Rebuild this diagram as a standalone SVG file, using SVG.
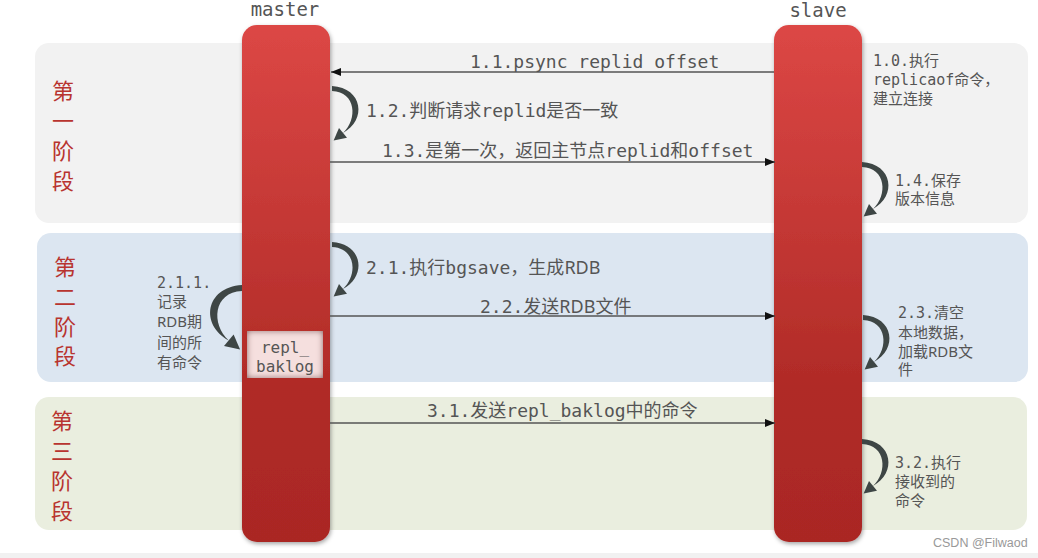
<svg xmlns="http://www.w3.org/2000/svg" xmlns:xlink="http://www.w3.org/1999/xlink" width="1038" height="558" viewBox="0 0 1038 558">
<style>
.mono{font-family:"DejaVu Sans Mono","Noto Sans CJK SC",monospace;fill:#555;}
.lbl{font-size:18px;}
.sm{font-size:15px;}
.sans{font-family:"Noto Sans","Noto Sans CJK SC",sans-serif;}
.stage{font-family:"Noto Sans CJK SC",sans-serif;font-size:22px;fill:#b8342f;text-anchor:middle;}
.conn{stroke:#555;stroke-width:1.3;fill:none;}
.curl{fill:#3e4645;}
</style>
<defs>
<linearGradient id="barGrad" x1="0" y1="0" x2="0" y2="1">
<stop offset="0" stop-color="#dc4745"/>
<stop offset="0.7" stop-color="#b02b27"/>
<stop offset="1" stop-color="#aa2724"/>
</linearGradient>
<filter id="shadow" x="-20%" y="-5%" width="140%" height="110%">
<feDropShadow dx="1" dy="2" stdDeviation="2" flood-color="#000" flood-opacity="0.35"/>
</filter>
<filter id="inset" x="-10%" y="-10%" width="120%" height="120%">
<feFlood flood-color="#6e1714"/>
<feComposite in2="SourceAlpha" operator="out"/>
<feGaussianBlur stdDeviation="3"/>
<feComposite in2="SourceAlpha" operator="in"/>
<feMerge><feMergeNode in="SourceGraphic"/><feMergeNode/></feMerge>
</filter>
<marker id="arr" markerUnits="userSpaceOnUse" markerWidth="10" markerHeight="8" refX="10" refY="4" orient="auto">
<path d="M0,0 L10,4 L0,8 z" fill="#111"/>
</marker>
<g id="curlShape">
<path class="curl" d="M0,0 C31,2 35,34 11,47 C26,33 24,6 0,5 Z"/>
<polygon class="curl" points="1.6,54.6 15,51.8 7,42"/>
</g>
</defs>

<g id="stage1">
<rect x="35" y="43" width="993" height="180" rx="14" fill="#f2f2f2"/>
<text class="stage" x="63" y="99">第</text>
<text class="stage" x="63" y="129">一</text>
<text class="stage" x="63" y="159">阶</text>
<text class="stage" x="63" y="189">段</text>
</g>
<g id="stage2">
<rect x="37" y="233" width="991" height="149" rx="14" fill="#dce6f1"/>
<text class="stage" x="65" y="275">第</text>
<text class="stage" x="65" y="305">二</text>
<text class="stage" x="65" y="335">阶</text>
<text class="stage" x="65" y="364">段</text>
</g>
<g id="stage3">
<rect x="35" y="397" width="992" height="133" rx="14" fill="#eaeedf"/>
<text class="stage" x="62" y="429">第</text>
<text class="stage" x="62" y="459">三</text>
<text class="stage" x="62" y="489">阶</text>
<text class="stage" x="62" y="519">段</text>
</g>

<rect x="0" y="553" width="1038" height="5" fill="#f1f1f1"/>

<g id="master">
<text class="mono" x="285" y="16" font-size="19" text-anchor="middle">master</text>
<rect x="242" y="25" width="88" height="517" rx="15" fill="url(#barGrad)" filter="url(#shadow)"/>
</g>
<g id="slave">
<text class="mono" x="818" y="17" font-size="19" text-anchor="middle">slave</text>
<rect x="774" y="25" width="88" height="517" rx="15" fill="url(#barGrad)" filter="url(#shadow)"/>
</g>
<g id="repl_baklog">
<rect x="247" y="331" width="76" height="47" fill="#f5dfde" filter="url(#inset)"/>
<text class="mono" x="285" y="353" font-size="16" text-anchor="middle">repl_</text>
<text class="mono" x="285" y="372" font-size="16" text-anchor="middle">baklog</text>
</g>

<g id="connectors">
<line class="conn" x1="774" y1="72" x2="331" y2="72" marker-end="url(#arr)"/>
<text class="mono lbl" x="470" y="68">1.1.psync replid offset</text>
<use xlink:href="#curlShape" href="#curlShape" transform="translate(332,86)"/>
<text class="mono lbl" x="366" y="117">1.2.判断请求replid是否一致</text>
<line class="conn" x1="330" y1="162" x2="775" y2="162" marker-end="url(#arr)"/>
<text class="mono lbl" x="382" y="157">1.3.是第一次，返回主节点replid和offset</text>
<use xlink:href="#curlShape" href="#curlShape" transform="translate(862,162)"/>

<use xlink:href="#curlShape" href="#curlShape" transform="translate(332,242)"/>
<text class="mono lbl" x="366" y="274">2.1.执行bgsave，生成<tspan class="sans">RDB</tspan></text>
<use xlink:href="#curlShape" href="#curlShape" transform="translate(242,285) scale(-1.2,1.18)"/>
<line class="conn" x1="330" y1="316" x2="775" y2="316" marker-end="url(#arr)"/>
<text class="mono lbl" x="480" y="313">2.2.发送<tspan class="sans">RDB</tspan>文件</text>
<use xlink:href="#curlShape" href="#curlShape" transform="translate(863,315)"/>

<line class="conn" x1="330" y1="423" x2="775" y2="423" marker-end="url(#arr)"/>
<text class="mono lbl" x="427" y="417">3.1.发送repl_baklog中的命令</text>
<use xlink:href="#curlShape" href="#curlShape" transform="translate(862,439)"/>
</g>

<g id="notes">
<text class="mono sm" x="873" y="66">1.0.执行</text>
<text class="mono sm" x="873" y="85">replicaof命令，</text>
<text class="mono sm" x="873" y="104">建立连接</text>
<text class="mono sm" x="895" y="186">1.4.保存</text>
<text class="mono sm" x="895" y="204">版本信息</text>
<text class="mono sm" x="157" y="288">2.1.1.</text>
<text class="mono sm" x="157" y="307">记录</text>
<text class="mono sm" x="157" y="327"><tspan class="sans">RDB</tspan>期</text>
<text class="mono sm" x="157" y="348">间的所</text>
<text class="mono sm" x="157" y="368">有命令</text>
<text class="mono sm" x="898" y="318">2.3.清空</text>
<text class="mono sm" x="898" y="338">本地数据，</text>
<text class="mono sm" x="898" y="357">加载<tspan class="sans">RDB</tspan>文</text>
<text class="mono sm" x="898" y="375">件</text>
<text class="mono sm" x="895" y="468">3.2.执行</text>
<text class="mono sm" x="895" y="487">接收到的</text>
<text class="mono sm" x="895" y="506">命令</text>
</g>

<text x="933" y="547" font-family="Liberation Sans,Arial,sans-serif" font-size="12.5" fill="#999">CSDN @Filwaod</text>
</svg>
